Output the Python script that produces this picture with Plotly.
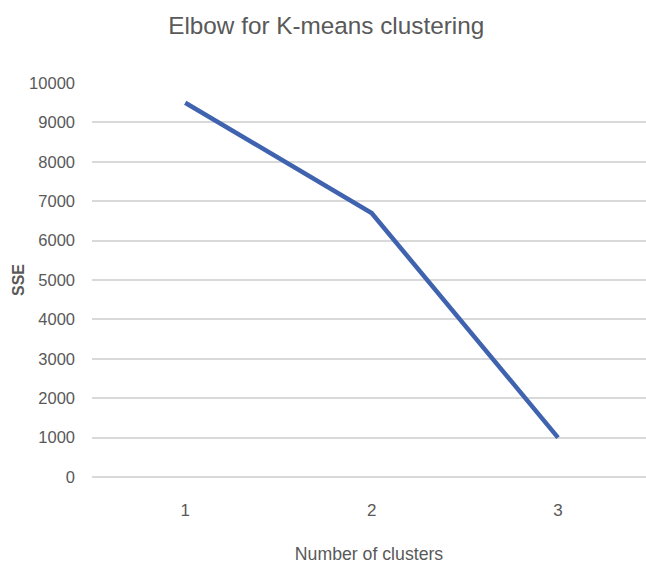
import plotly.graph_objects as go

# Elbow curve data
clusters = [1, 2, 3]
sse = [9500, 6700, 1000]
y_ticks = [0, 1000, 2000, 3000, 4000, 5000, 6000, 7000, 8000, 9000, 10000]

FONT = "Liberation Sans, Arial, sans-serif"
GREY = "#595959"

fig = go.Figure()
fig.add_trace(go.Scatter(
    x=clusters, y=sse, mode="lines",
    line=dict(color="#3F63AE", width=4.5),
    showlegend=False, hoverinfo="x+y",
))

fig.update_layout(
    width=646, height=567,
    margin=dict(l=92, r=0, t=83, b=90, autoexpand=False),
    paper_bgcolor="white", plot_bgcolor="white",
    font=dict(family=FONT, color=GREY),
    title=dict(text="Elbow for K-means clustering",
               font=dict(family=FONT, size=24.3, color=GREY),
               x=0.505, xanchor="center", y=0.955, yanchor="middle"),
)

fig.update_xaxes(
    range=[0.5, 3.472], tickmode="array", tickvals=clusters,
    ticktext=[str(c) for c in clusters],
    tickfont=dict(size=17, color=GREY), ticklabelstandoff=21,
    showgrid=False, zeroline=False, showline=False, ticks="",
    automargin=False,
    title=dict(text="Number of clusters", font=dict(size=17.7, color=GREY), standoff=28),
)

fig.update_yaxes(
    range=[0, 10000], tickmode="array", tickvals=y_ticks,
    ticktext=[str(v) for v in y_ticks],
    tickfont=dict(size=16.5, color=GREY), ticklabelstandoff=16,
    showgrid=True, gridcolor="#D9D9D9", gridwidth=1.5,
    zeroline=True, zerolinecolor="#D9D9D9", zerolinewidth=1.5,
    showline=False, ticks="",
    automargin=False,
    title=dict(text="<b>SSE</b>", font=dict(size=16, color=GREY), standoff=0),
)

fig.write_html("out.html")
